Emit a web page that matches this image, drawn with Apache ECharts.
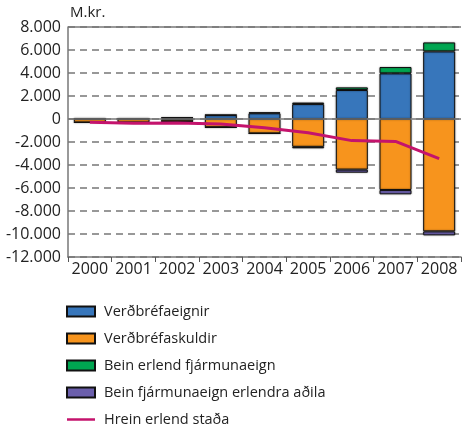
<!DOCTYPE html>
<html>
<head>
<meta charset="utf-8">
<script src="https://cdn.jsdelivr.net/npm/echarts@6/dist/echarts.min.js"></script>
<style>
  html, body { margin: 0; padding: 0; background: #fff; }
  #chart { width: 462px; height: 428px; }
</style>
</head>
<body>
<div id="chart"></div>
<script>
const years = ['2000', '2001', '2002', '2003', '2004', '2005', '2006', '2007', '2008']
// M.kr.
const verdbrefaeignir = [30, 20, 100, 340, 500, 1300, 2520, 3970, 5880]
const verdbrefaskuldir = [-300, -300, -200, -720, -1250, -2420, -4400, -6170, -9770]
const beinErlend = [10, 10, 30, 20, 80, 130, 230, 550, 780]
const beinErlendraAdila = [-10, -20, -20, -20, -20, -130, -270, -380, -350]
const hreinStada = [-290, -370, -350, -440, -760, -1200, -1880, -1950, -3450]

const fmt = (v) => {
  const s = String(Math.abs(v)).replace(/\B(?=(\d{3})+(?!\d))/g, '.')
  return v < 0 ? '-' + s : s
}

const font = 'Open Sans'
const barStyle = (color) => ({
  color: color,
  borderColor: '#111',
  borderWidth: 1,
  shadowColor: 'rgba(0,0,0,0.35)',
  shadowBlur: 2
})

const chart = echarts.init(document.getElementById('chart'))
const option = {
  animation: false,
  textStyle: { fontFamily: font },
  title: {
    text: 'M.kr.',
    left: 70,
    top: 5,
    padding: 0,
    textStyle: { fontFamily: font, fontSize: 15, fontWeight: 'normal', color: '#222' }
  },
  grid: { left: 68, right: 1, top: 27, bottom: 171 },
  legend: {
    orient: 'vertical',
    left: 66,
    top: 304,
    height: 160,
    padding: 0,
    itemWidth: 28,
    itemHeight: 10,
    itemGap: 12,
    textStyle: { fontFamily: font, fontSize: 14.5, color: '#222', padding: [0, 0, 0, 4] },
    data: [
      { name: 'Verðbréfaeignir', icon: 'rect' },
      { name: 'Verðbréfaskuldir', icon: 'rect' },
      { name: 'Bein erlend fjármunaeign', icon: 'rect' },
      { name: 'Bein fjármunaeign erlendra aðila', icon: 'rect' },
      { name: 'Hrein erlend staða', icon: 'path://M0,0h28v2.5h-28z' }
    ]
  },
  xAxis: {
    type: 'category',
    data: years,
    axisLine: { onZero: false, lineStyle: { color: '#777', width: 1.5 } },
    axisTick: { show: true, length: 5, lineStyle: { color: '#555' } },
    axisLabel: { fontFamily: font, fontSize: 16, color: '#222', margin: 4, interval: 0, hideOverlap: false }
  },
  yAxis: {
    type: 'value',
    min: -12000,
    max: 8000,
    interval: 2000,
    axisLine: { show: true, lineStyle: { color: '#777', width: 1.5 } },
    axisTick: { show: false },
    axisLabel: { fontFamily: font, fontSize: 16, color: '#222', margin: 7, formatter: fmt },
    splitLine: { lineStyle: { color: '#777', width: 1.5, type: [7, 5] } }
  },
  series: [
    {
      name: 'Verðbréfaeignir', type: 'bar', stack: 'a', barWidth: 32,
      data: verdbrefaeignir, itemStyle: barStyle('#3776bb')
    },
    {
      name: 'Verðbréfaskuldir', type: 'bar', stack: 'a', barWidth: 32,
      data: verdbrefaskuldir, itemStyle: barStyle('#f7941d')
    },
    {
      name: 'Bein erlend fjármunaeign', type: 'bar', stack: 'a', barWidth: 32,
      data: beinErlend, itemStyle: barStyle('#00a651')
    },
    {
      name: 'Bein fjármunaeign erlendra aðila', type: 'bar', stack: 'a', barWidth: 32,
      data: beinErlendraAdila, itemStyle: barStyle('#6b5fac')
    },
    {
      name: 'Hrein erlend staða', type: 'line', symbol: 'none', z: 5,
      data: hreinStada,
      lineStyle: { color: '#c4136c', width: 3 },
      itemStyle: { color: '#c4136c', borderWidth: 0 }
    },
    {
      type: 'line', data: [], z: 1,
      markLine: {
        silent: true, symbol: 'none', label: { show: false },
        lineStyle: { color: '#777', width: 1.5, type: 'solid' },
        data: [{ yAxis: 0 }, { yAxis: 8000 }]
      }
    }
  ]
}
chart.setOption(option)
</script>
</body>
</html>
